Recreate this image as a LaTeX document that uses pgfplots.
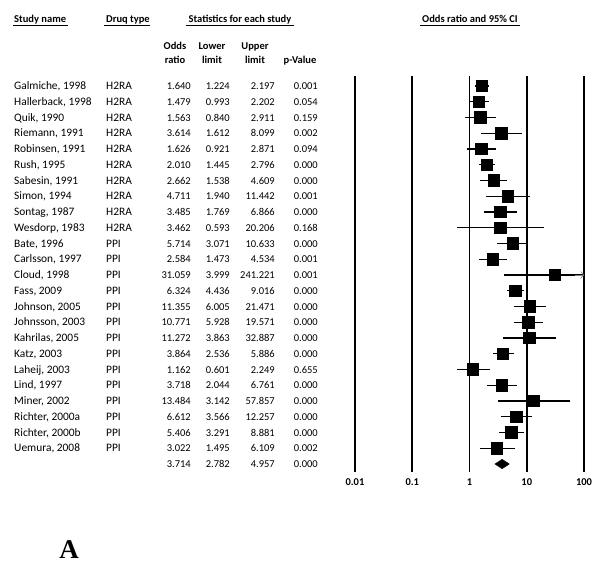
\documentclass[border=0pt]{standalone}
\usepackage{pgfplots}
\pgfplotsset{compat=1.18}
\usepackage{pgfplotstable}
\usepackage{fontspec}
\setmainfont{Carlito}
\newfontfamily\timesfont{Liberation Serif}
\usetikzlibrary{arrows.meta}

% study names and drug type
\pgfplotstableread[col sep=semicolon]{
row;name;type
0;Galmiche, 1998;H2RA
1;Hallerback, 1998;H2RA
2;Quik, 1990;H2RA
3;Riemann, 1991;H2RA
4;Robinsen, 1991;H2RA
5;Rush, 1995;H2RA
6;Sabesin, 1991;H2RA
7;Simon, 1994;H2RA
8;Sontag, 1987;H2RA
9;Wesdorp, 1983;H2RA
10;Bate, 1996;PPI
11;Carlsson, 1997;PPI
12;Cloud, 1998;PPI
13;Fass, 2009;PPI
14;Johnson, 2005;PPI
15;Johnsson, 2003;PPI
16;Kahrilas, 2005;PPI
17;Katz, 2003;PPI
18;Laheij, 2003;PPI
19;Lind, 1997;PPI
20;Miner, 2002;PPI
21;Richter, 2000a;PPI
22;Richter, 2000b;PPI
23;Uemura, 2008;PPI
}\names

% odds ratio, lower, upper, p (row 24 = pooled)
\pgfplotstableread{
row or lo up p
0 1.640 1.224 2.197 0.001
1 1.479 0.993 2.202 0.054
2 1.563 0.840 2.911 0.159
3 3.614 1.612 8.099 0.002
4 1.626 0.921 2.871 0.094
5 2.010 1.445 2.796 0.000
6 2.662 1.538 4.609 0.000
7 4.711 1.940 11.442 0.001
8 3.485 1.769 6.866 0.000
9 3.462 0.593 20.206 0.168
10 5.714 3.071 10.633 0.000
11 2.584 1.473 4.534 0.001
12 31.059 3.999 241.221 0.001
13 6.324 4.436 9.016 0.000
14 11.355 6.005 21.471 0.000
15 10.771 5.928 19.571 0.000
16 11.272 3.863 32.887 0.000
17 3.864 2.536 5.886 0.000
18 1.162 0.601 2.249 0.655
19 3.718 2.044 6.761 0.000
20 13.484 3.142 57.857 0.000
21 6.612 3.566 12.257 0.000
22 5.406 3.291 8.881 0.000
23 3.022 1.495 6.109 0.002
24 3.714 2.782 4.957 0.000
}\stats

\newcommand\bodyfont{\fontsize{10.5}{12}\selectfont}
\newcommand\namefont{\fontsize{11.4}{13}\selectfont}

\begin{document}
\begin{tikzpicture}
\useasboundingbox (0,0) rectangle (604pt,-569pt);

% text columns
\begin{axis}[
  at={(0pt,-76pt)}, anchor=north west,
  width=330pt, height=396pt, scale only axis,
  xmin=0, xmax=330, ymin=-0.635, ymax=24.508,
  y dir=reverse, hide axis, clip=false,
  point meta=explicit symbolic,
  nodes near coords,
  every node near coord/.append style={font=\bodyfont, inner sep=0pt, yshift=-3.5pt},
]
\addplot[only marks, mark=none, nodes near coords style={anchor=base west, font=\namefont}]
  table[x expr=14, y=row, meta=name] {\names};
\addplot[only marks, mark=none, nodes near coords style={anchor=base west, font=\namefont}]
  table[x expr=106, y=row, meta=type] {\names};
\addplot[only marks, mark=none, nodes near coords style={anchor=base east}]
  table[x expr=191, y=row, meta=or] {\stats};
\addplot[only marks, mark=none, nodes near coords style={anchor=base east}]
  table[x expr=230, y=row, meta=lo] {\stats};
\addplot[only marks, mark=none, nodes near coords style={anchor=base east}]
  table[x expr=275, y=row, meta=up] {\stats};
\addplot[only marks, mark=none, nodes near coords style={anchor=base east}]
  table[x expr=318, y=row, meta=p] {\stats};
\end{axis}

% forest plot
\begin{axis}[
  at={(355pt,-76pt)}, anchor=north west,
  width=229pt, height=396pt, scale only axis,
  xmode=log, xmin=0.01, xmax=100,
  ymin=-0.635, ymax=24.508, y dir=reverse,
  axis line style={draw=none},
  ytick=\empty,
  xtick={0.01,0.1,10,100},
  xticklabels={0.01,0.1,10,100},
  extra x ticks={1}, extra x tick labels={1},
  extra x tick style={grid style={black, line width=1pt}},
  minor xtick={}, tick style={draw=none},
  xmajorgrids, grid style={black, line width=1.6pt},
  xticklabel style={font=\bfseries\bodyfont, yshift=-3pt},
]
\addplot[black, line width=1.3pt, only marks, mark=square*, mark size=5.6pt,
  skip coords between index={24}{25},
  error bars/.cd, x dir=both, x explicit, error mark=none,
  error bar style={line width=1.4pt}]
  table[x=or, y=row,
    x error plus expr=\thisrow{up}-\thisrow{or},
    x error minus expr=\thisrow{or}-\thisrow{lo}] {\stats};
% arrow for Cloud 1998 (upper limit beyond 100)
\addplot[gray, line width=0.6pt, -{Straight Barb[length=3pt, width=7pt]}]
  coordinates {(70,12) (100,12)};
% pooled estimate
\addplot[black, fill=black] coordinates
  {(2.782,24) (3.714,23.7) (4.957,24) (3.714,24.3)} -- cycle;
\end{axis}

% headers
\begin{scope}[font=\bfseries\bodyfont]
\node[anchor=base west, inner sep=0pt] at (14pt,-22.5pt) {Study name};
\draw (13pt,-25.5pt) -- (68pt,-25.5pt);
\node[anchor=base west, inner sep=0pt] at (106pt,-22.5pt) {Druq type};
\draw (104pt,-25.5pt) -- (150pt,-25.5pt);
\node[anchor=base, inner sep=0pt] at (240pt,-22.5pt) {Statistics for each study};
\draw (186pt,-25.5pt) -- (294pt,-25.5pt);
\node[anchor=base, inner sep=0pt] at (470pt,-22.5pt) {Odds ratio and 95\% CI};
\draw (420pt,-25.5pt) -- (520pt,-25.5pt);
\node[anchor=base, inner sep=0pt] at (175pt,-50pt) {Odds};
\node[anchor=base, inner sep=0pt] at (175pt,-63.5pt) {ratio};
\node[anchor=base, inner sep=0pt] at (212pt,-50pt) {Lower};
\node[anchor=base, inner sep=0pt] at (212pt,-63.5pt) {limit};
\node[anchor=base, inner sep=0pt] at (255pt,-50pt) {Upper};
\node[anchor=base, inner sep=0pt] at (255pt,-63.5pt) {limit};
\node[anchor=base, inner sep=0pt] at (300pt,-63.5pt) {p-Value};
\end{scope}

\node[font=\timesfont\bfseries\fontsize{27}{30}\selectfont] at (69pt,-550pt) {A};
\end{tikzpicture}
\end{document}
